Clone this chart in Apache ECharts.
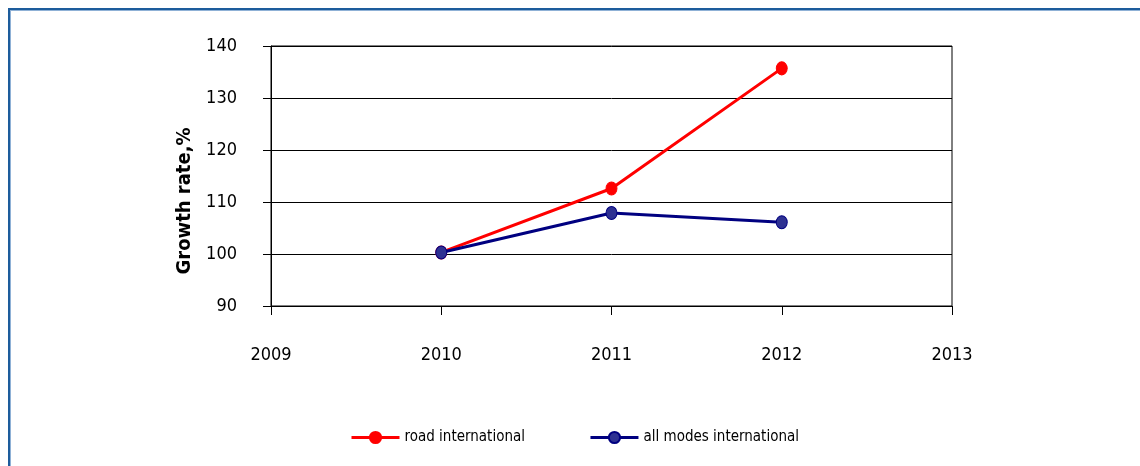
<!DOCTYPE html>
<html>
<head>
<meta charset="utf-8">
<title>Growth rate</title>
<script src="https://cdn.jsdelivr.net/npm/echarts@6/dist/echarts.min.js"></script>
<style>
  html, body { margin: 0; padding: 0; background: #fff; }
  #wrap { position: relative; width: 1140px; height: 466px; overflow: hidden; }
  #frame {
    position: absolute; left: 8px; top: 8px; width: 1200px; height: 520px;
    border: 2px solid #1d5c9c; box-shadow: inset 1px 1px 0 #8fb1d6;
  }
  #chart { position: absolute; left: 0; top: 0; width: 1140px; height: 466px; }
</style>
</head>
<body>
<div id="wrap">
  <div id="frame"></div>
  <div id="chart"></div>
</div>
<script>
// Years on the horizontal axis
const years = [2010, 2011, 2012];
// Growth rate, % (2010 = 100)
const roadInternational = [100.3, 112.6, 135.7];
const allModesInternational = [100.3, 107.9, 106.1];
// Axis ranges
const yearTicks = [2009, 2010, 2011, 2012, 2013];
const rateTicks = [90, 100, 110, 120, 130, 140];

const FONT = '"Liberation Sans Narrow", "DejaVu Sans Condensed", "Liberation Sans", sans-serif';

const chart = echarts.init(document.getElementById('chart'), null, { renderer: 'canvas' });

const toPairs = (vals) => years.map((y, i) => [y, vals[i]]);

chart.setOption({
  backgroundColor: 'transparent',
  animation: false,
  textStyle: { fontFamily: FONT, color: '#000' },
  grid: {
    left: 271, right: 188, top: 46, bottom: 160,
    show: true, borderColor: '#000', borderWidth: 1, containLabel: false
  },
  xAxis: {
    type: 'value',
    min: yearTicks[0],
    max: yearTicks[yearTicks.length - 1],
    interval: 1,
    axisLine: { show: true, lineStyle: { color: '#000', width: 1 } },
    axisTick: { show: true, inside: false, length: 9, lineStyle: { color: '#000' } },
    splitLine: { show: false },
    axisLabel: {
      margin: 40, fontSize: 18, color: '#000', fontFamily: FONT,
      formatter: (v) => String(v)
    }
  },
  yAxis: {
    type: 'value',
    min: rateTicks[0],
    max: rateTicks[rateTicks.length - 1],
    interval: 10,
    name: 'Growth rate,%',
    nameLocation: 'middle',
    nameRotate: 90,
    nameGap: 72,
    nameTextStyle: {
      fontSize: 20, fontWeight: 'bold', color: '#000', fontFamily: FONT,
      padding: [0, 50, 0, 0]
    },
    axisLine: { show: true, lineStyle: { color: '#000', width: 1 } },
    axisTick: { show: true, inside: false, length: 8, lineStyle: { color: '#000' } },
    splitLine: { show: true, lineStyle: { color: '#000', width: 1 } },
    axisLabel: { margin: 34, fontSize: 18, color: '#000', fontFamily: FONT }
  },
  legend: {
    left: 345, top: 425,
    itemWidth: 48, itemHeight: 14, itemGap: 64,
    lineStyle: { width: 3 },
    textStyle: { fontSize: 15, color: '#000', fontFamily: FONT },
    data: ['road international', 'all modes international']
  },
  series: [
    {
      name: 'road international',
      type: 'line',
      data: toPairs(roadInternational),
      symbol: 'circle',
      symbolSize: [11, 13],
      lineStyle: { color: '#ff0000', width: 3 },
      itemStyle: { color: '#ff0000', borderColor: '#ff0000', borderWidth: 1 },
      z: 3
    },
    {
      name: 'all modes international',
      type: 'line',
      data: toPairs(allModesInternational),
      symbol: 'circle',
      symbolSize: [11, 13],
      lineStyle: { color: '#000080', width: 3 },
      itemStyle: { color: '#2e3192', borderColor: '#000080', borderWidth: 1 },
      z: 4
    }
  ]
});
</script>
</body>
</html>
